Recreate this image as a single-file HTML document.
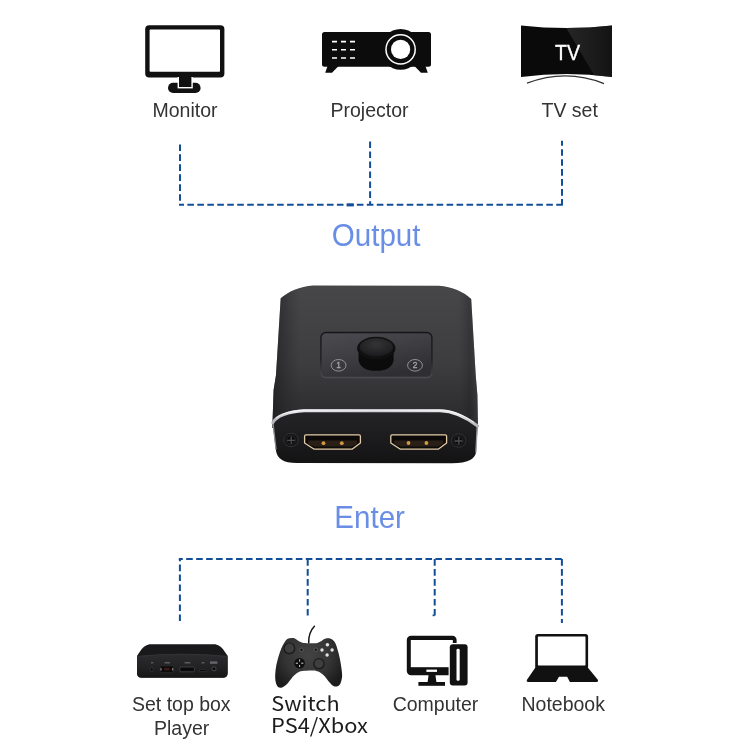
<!DOCTYPE html>
<html lang="en">
<head>
<meta charset="utf-8">
<title>HDMI switch connection diagram</title>
<style>
html,body{margin:0;padding:0;background:#fff;}
body{width:750px;height:750px;overflow:hidden;}
svg{display:block;will-change:transform;}
text{font-family:"Liberation Sans",Arial,Helvetica,sans-serif;}
.lbl{font-size:19.5px;fill:#333;text-anchor:middle;}
.big{font-size:29px;fill:#6a8ee6;text-anchor:middle;}
.sw{font-family:"Noto Sans CJK SC","Liberation Sans",sans-serif;font-weight:400;font-size:20.1px;fill:#1c1c1c;}
.dash{fill:none;stroke:#124e98;stroke-width:2;stroke-dasharray:6.6 3.37;}
</style>
</head>
<body>
<svg width="750" height="750" viewBox="0 0 750 750">
<defs>
  <linearGradient id="topface" x1="0" y1="0" x2="0" y2="1">
    <stop offset="0" stop-color="#474648"/>
    <stop offset="0.55" stop-color="#3d3c3e"/>
    <stop offset="0.85" stop-color="#2f2f31"/>
    <stop offset="1" stop-color="#29292b"/>
  </linearGradient>
  <linearGradient id="sideshade" gradientUnits="userSpaceOnUse" x1="271" y1="0" x2="479" y2="0">
    <stop offset="0" stop-color="#1c1c1e" stop-opacity="0.75"/>
    <stop offset="0.06" stop-color="#222224" stop-opacity="0.45"/>
    <stop offset="0.14" stop-color="#2a2a2c" stop-opacity="0"/>
    <stop offset="0.9" stop-color="#2a2a2c" stop-opacity="0"/>
    <stop offset="0.955" stop-color="#1e1e20" stop-opacity="0.35"/>
    <stop offset="1" stop-color="#48484b" stop-opacity="0.5"/>
  </linearGradient>
  <linearGradient id="frontface" x1="0" y1="0" x2="0" y2="1">
    <stop offset="0" stop-color="#252527"/>
    <stop offset="0.5" stop-color="#1c1c1e"/>
    <stop offset="1" stop-color="#131314"/>
  </linearGradient>
  <linearGradient id="panelfill" x1="0" y1="0" x2="0.5" y2="1">
    <stop offset="0" stop-color="#4b4b51"/>
    <stop offset="0.45" stop-color="#404045"/>
    <stop offset="1" stop-color="#2f2f33"/>
  </linearGradient>
  <linearGradient id="panelrim" x1="0" y1="0" x2="0" y2="1">
    <stop offset="0" stop-color="#161618"/>
    <stop offset="0.6" stop-color="#202022"/>
    <stop offset="1" stop-color="#4c4c50"/>
  </linearGradient>
  <radialGradient id="btntop" cx="0.5" cy="0.35" r="0.7">
    <stop offset="0" stop-color="#343437"/>
    <stop offset="0.7" stop-color="#222224"/>
    <stop offset="1" stop-color="#151516"/>
  </radialGradient>
  <linearGradient id="silver" x1="0" y1="0" x2="1" y2="0">
    <stop offset="0" stop-color="#b4b5b9"/>
    <stop offset="0.1" stop-color="#e6e7ea"/>
    <stop offset="0.5" stop-color="#cfd0d4"/>
    <stop offset="0.9" stop-color="#e6e7ea"/>
    <stop offset="1" stop-color="#b4b5b9"/>
  </linearGradient>
  <linearGradient id="tvsheen" x1="0" y1="0" x2="1" y2="0">
    <stop offset="0" stop-color="#3a3a3a"/>
    <stop offset="1" stop-color="#141414"/>
  </linearGradient>
  <clipPath id="tvclip"><path d="M521 25.6 Q566.5 30.6 612 25.6 V77 Q566.5 71 521 77 Z"/></clipPath>
  <linearGradient id="stbfront" x1="0" y1="0" x2="0" y2="1">
    <stop offset="0" stop-color="#2c2c2f"/>
    <stop offset="0.5" stop-color="#232325"/>
    <stop offset="1" stop-color="#161617"/>
  </linearGradient>
  <radialGradient id="padbody" gradientUnits="userSpaceOnUse" cx="308" cy="655" r="38">
    <stop offset="0" stop-color="#434343"/>
    <stop offset="0.6" stop-color="#343434"/>
    <stop offset="1" stop-color="#1c1c1c"/>
  </radialGradient>
</defs>
<rect width="750" height="750" fill="#fff"/>

<!-- ===== dashed connectors ===== -->
<g id="lines-top" class="dash">
  <path d="M179 204.8 H563" stroke-dashoffset="1.6"/>
  <path d="M180 144.4 V204.8"/>
  <path d="M370.1 141.5 V204.8"/>
  <path d="M562 140.8 V204.8" stroke-dashoffset="1.6"/>
  <rect x="346.6" y="203.4" width="7.2" height="3" fill="#124e98" stroke="none"/>
</g>
<g id="lines-bottom" class="dash">
  <path d="M178.8 559.1 H563" stroke-dashoffset="2.6"/>
  <path d="M179.9 621 V559.1"/>
  <path d="M307.7 559.1 V615.7"/>
  <path d="M434.7 559.1 V616.1"/>
  <rect x="432.6" y="614.5" width="2" height="1.7" fill="#124e98" stroke="none"/>
  <path d="M561.9 559.1 V623.1"/>
</g>

<!-- ===== Monitor ===== -->
<g id="monitor">
  <rect x="145.2" y="25.2" width="79.2" height="52.2" rx="4" fill="#111"/>
  <rect x="149.6" y="29.6" width="70.4" height="42.2" rx="0.8" fill="#fff"/>
  <rect x="168" y="82.8" width="32.6" height="10.2" rx="5.1" fill="#111"/>
  <rect x="177.6" y="77" width="15.2" height="11.4" fill="#fff"/>
  <rect x="179" y="76" width="12.4" height="11" fill="#111"/>
</g>
<text class="lbl" x="185" y="117">Monitor</text>

<!-- ===== Projector ===== -->
<g id="projector" fill="#0c0c0c">
  <rect x="322" y="32" width="109" height="34.8" rx="2.5"/>
  <path d="M327.6 66 H338.6 L332 72.8 H325.2 Z"/>
  <path d="M414.4 66 H425.4 L427.8 72.8 H421 Z"/>
  <circle cx="400.6" cy="49.4" r="20.4"/>
  <circle cx="400.6" cy="49.4" r="14.6" fill="none" stroke="#fff" stroke-width="1.5"/>
  <circle cx="400.6" cy="49.4" r="9.6" fill="#fff"/>
  <g stroke="#fff" stroke-width="1.6" stroke-dasharray="5 4" fill="none">
    <path d="M332 41.6 H356"/>
    <path d="M332 49.8 H356"/>
    <path d="M332 58 H356"/>
  </g>
</g>
<text class="lbl" x="369.5" y="117">Projector</text>

<!-- ===== TV ===== -->
<g id="tv">
  <path d="M521 25.6 Q566.5 30.6 612 25.6 V77 Q566.5 71 521 77 Z" fill="#0a0a0a"/>
  <path d="M561.6 20 L620 20 V80 L597 80 Z" fill="url(#tvsheen)" opacity="0.62" clip-path="url(#tvclip)"/>
  <path d="M527 83.2 Q566 68.4 604 83.6" fill="none" stroke="#333" stroke-width="1.3"/>
  <text transform="translate(567.5 59.7) scale(0.96 1.085)" text-anchor="middle" font-size="20.4" fill="#fff" stroke="#fff" stroke-width="0.35">TV</text>
</g>
<text class="lbl" x="569.7" y="116.6">TV set</text>

<!-- ===== big labels ===== -->
<text class="big" transform="translate(376.1 245.5) scale(1.02 1.055)">Output</text>
<text class="big" transform="translate(369.6 528) scale(1.02 1.055)">Enter</text>

<!-- ===== HDMI switch device ===== -->
<g id="device">
  <!-- top face -->
  <path id="topshape" d="M313 285.4 L439 285.8 C452 286.5 464 292 471.2 299 L475.7 375 L477.4 395 L478 428 H272.4 L272.6 420 L273.6 390 L276 375 L280.7 298.3 C288 291.5 300 286.2 313 285.4 Z" fill="url(#topface)"/>
  <path d="M313 285.4 L439 285.8 C452 286.5 464 292 471.2 299 L475.7 375 L477.4 395 L478 428 H272.4 L272.6 420 L273.6 390 L276 375 L280.7 298.3 C288 291.5 300 286.2 313 285.4 Z" fill="url(#sideshade)"/>
  <!-- panel -->
  <rect x="320.4" y="332" width="112" height="46" rx="5.5" fill="url(#panelfill)"/>
  <rect x="320.9" y="332.5" width="111" height="45" rx="5" fill="none" stroke="url(#panelrim)" stroke-width="1.4"/>
  <!-- button -->
  <path d="M358.6 349 V360.4 Q361 370.8 376.2 370.8 Q391.4 370.8 393.6 360.4 V349 Z" fill="#0b0b0c"/>
  <ellipse cx="376.3" cy="348.2" rx="19.2" ry="11.4" fill="#101011"/>
  <ellipse cx="376.3" cy="347.2" rx="16.6" ry="9.2" fill="url(#btntop)"/>
  <!-- circled numbers -->
  <g fill="none" stroke="#9c9ca0" stroke-width="0.9">
    <ellipse cx="338.6" cy="365.3" rx="7.4" ry="5.8"/>
    <ellipse cx="415" cy="365.3" rx="7.4" ry="5.8"/>
  </g>
  <g font-size="8.4" fill="#a9a9ad" stroke="#a9a9ad" stroke-width="0.3" text-anchor="middle">
    <text x="338.6" y="368.3">1</text>
    <text x="415" y="368.3">2</text>
  </g>
  <!-- front face -->
  <path d="M272.6 423 C276 417 288 411.5 304 410.9 L440 411 C452 411.2 466 417.5 477.6 426.2 L476 452.6 C475 459 468 463.3 452 463.3 L296.8 463.1 C283 463.1 277.2 458.6 276 450.8 Z" fill="url(#frontface)"/>
  <!-- edge highlights -->
  <path d="M273 423 L276 449" fill="none" stroke="#8c8d91" stroke-width="1.3" stroke-linecap="round"/>
  <path d="M477.2 426.5 L475.9 452" fill="none" stroke="#9a9b9f" stroke-width="1.3" stroke-linecap="round"/>
  <!-- silver chamfer -->
  <path d="M272.8 422.6 C276 416.6 288 411.3 304 410.7 L440 410.8 C452 411 466 417.3 477.6 426" fill="none" stroke="url(#silver)" stroke-width="3" stroke-linecap="round"/>
  <path d="M276 418.2 C281 414 290 410.6 304 410 L440 410.1 C452 410.4 464 415.4 474 422.4" fill="none" stroke="#fff" stroke-width="0.9" opacity="0.85"/>
  <!-- HDMI ports -->
  <g id="port1">
    <path d="M306 434.8 H359 Q360.4 434.8 360.4 436.2 V443 L352 449.2 H314.2 L304.6 443 V436.2 Q304.6 434.8 306 434.8 Z" fill="#0c0a08" stroke="#e3cba6" stroke-width="1.3" stroke-linejoin="round"/>
    <path d="M308 440.6 H357 V444 L351.6 446.4 H314.6 L308 444 Z" fill="#2a1f16"/>
    <circle cx="323.5" cy="443.2" r="1.9" fill="#d09a42"/>
    <circle cx="341.8" cy="443.2" r="1.9" fill="#d09a42"/>
  </g>
  <g id="port2" transform="translate(86.2 0)">
    <path d="M306 434.8 H359 Q360.4 434.8 360.4 436.2 V443 L352 449.2 H314.2 L304.6 443 V436.2 Q304.6 434.8 306 434.8 Z" fill="#0c0a08" stroke="#e3cba6" stroke-width="1.3" stroke-linejoin="round"/>
    <path d="M308 440.6 H357 V444 L351.6 446.4 H314.6 L308 444 Z" fill="#2a1f16"/>
    <circle cx="322.3" cy="443" r="1.9" fill="#d09a42"/>
    <circle cx="340.2" cy="443" r="1.9" fill="#d09a42"/>
  </g>
  <!-- screws -->
  <g id="screws">
    <ellipse cx="291" cy="440" rx="7.2" ry="6.7" fill="#141415" stroke="#333336" stroke-width="1"/>
    <circle cx="291" cy="440" r="4.4" fill="#0c0c0d" stroke="#2c2c2e" stroke-width="0.8"/>
    <path d="M287.2 440.4 H294.8 M291.2 436.4 V443.8" stroke="#4e4e52" stroke-width="1.3"/>
    <ellipse cx="458.6" cy="440.6" rx="7.2" ry="6.7" fill="#141415" stroke="#333336" stroke-width="1"/>
    <circle cx="458.6" cy="440.6" r="4.4" fill="#0c0c0d" stroke="#2c2c2e" stroke-width="0.8"/>
    <path d="M454.8 441 H462.4 M458.8 437 V444.4" stroke="#4e4e52" stroke-width="1.3"/>
  </g>
</g>

<!-- ===== Set top box ===== -->
<g id="stb">
  <path d="M137.1 655.8 L139.8 651.8 Q143.4 645.6 149.5 644.3 H215.3 Q221.2 645.6 224.8 651.8 L227.6 655.8 V673 Q227.6 677.6 223 677.6 H141.6 Q137.1 677.6 137.1 673 Z" fill="#19191b"/>
  <path d="M137 656.2 Q182 651.8 227.6 656.2 V673 Q227.6 677.7 223 677.7 H141.6 Q137 677.7 137 673 Z" fill="url(#stbfront)"/>
  <path d="M137.4 656.4 Q182 652 227.2 656.4" fill="none" stroke="#343437" stroke-width="0.9"/>
  <!-- port labels -->
  <g fill="#5c5c60">
    <rect x="151" y="662" width="2.2" height="1.5"/>
    <rect x="164.6" y="662" width="5.4" height="1.5"/>
    <rect x="184.6" y="662" width="5.8" height="1.5"/>
    <rect x="201.6" y="662" width="2.8" height="1.5"/>
    <rect x="210" y="661.4" width="7.4" height="2.4" fill="#66666a"/>
  </g>
  <!-- ports -->
  <circle cx="151.8" cy="669.4" r="1.7" fill="#070707" stroke="#3c3c3f" stroke-width="0.8"/>
  <rect x="160.2" y="665.8" width="13.2" height="7" rx="0.8" fill="#0b0b0b" stroke="#303033" stroke-width="0.8"/>
  <rect x="164.2" y="667.8" width="5.2" height="2.6" fill="#3e1a15"/>
  <rect x="160.4" y="668.2" width="1.2" height="2.2" fill="#8a8a8e"/><rect x="172" y="668.2" width="1.2" height="2.2" fill="#8a8a8e"/>
  <rect x="179.8" y="667" width="14.6" height="4.8" rx="1.2" fill="#0a0a0a" stroke="#48484c" stroke-width="0.8"/>
  <rect x="199.4" y="669.6" width="6.8" height="2" rx="0.9" fill="#070707" stroke="#3f3f42" stroke-width="0.6"/>
  <circle cx="214" cy="668.8" r="2" fill="#080808" stroke="#505054" stroke-width="0.9"/>
</g>
<text class="lbl" x="181.3" y="710.6">Set top box</text>
<text class="lbl" x="181.6" y="734.6">Player</text>

<!-- ===== Controller ===== -->
<g id="pad">
  <path d="M308.7 643 C308.4 636 310.4 630.4 314.4 626.2" fill="none" stroke="#151515" stroke-width="1.5" stroke-linecap="round"/>
  <path d="M284.3 642.7 C285.3 641.1 286.2 639.5 287.7 638.7 C289.2 637.9 291.6 637.9 293.3 638.1 C295.0 638.4 296.4 639.6 297.9 640.4 C299.4 641.2 300.7 642.2 302.4 642.7 C304.1 643.1 305.8 643.1 308.1 643.2 C310.3 643.3 313.9 643.5 316.0 643.2 C318.1 643.0 319.0 642.3 320.5 641.5 C322.0 640.8 323.4 639.2 325.1 638.7 C326.8 638.2 329.1 638.1 330.7 638.7 C332.3 639.3 333.6 640.3 334.7 642.1 C335.8 643.9 336.7 646.7 337.5 649.5 C338.4 652.2 339.1 655.3 339.8 658.5 C340.5 661.7 341.1 665.7 341.5 668.7 C341.9 671.8 342.3 674.2 342.1 676.7 C341.9 679.1 341.1 681.9 340.4 683.5 C339.6 685.1 338.8 685.9 337.5 686.3 C336.3 686.7 334.5 686.6 333.0 685.7 C331.5 684.9 330.0 682.9 328.5 681.2 C327.0 679.5 325.6 677.1 323.9 675.5 C322.2 673.9 320.2 672.4 318.3 671.6 C316.4 670.7 315.2 670.5 312.6 670.4 C310.0 670.3 305.0 670.5 302.4 671.0 C299.8 671.5 298.6 671.9 296.7 673.3 C294.8 674.6 292.8 677.0 291.1 678.9 C289.4 680.8 288.0 683.2 286.5 684.6 C285.0 686.0 283.4 687.1 282.0 687.4 C280.6 687.8 279.1 687.7 278.0 686.9 C277.0 686.0 276.2 684.4 275.8 682.3 C275.3 680.3 275.1 677.2 275.2 674.4 C275.3 671.6 275.8 668.4 276.3 665.3 C276.9 662.3 277.8 659.1 278.6 656.3 C279.5 653.4 280.5 650.6 281.4 648.3 C282.4 646.1 283.2 644.3 284.3 642.7 Z" fill="url(#padbody)"/>
  <!-- sticks -->
  <circle cx="289.4" cy="648.4" r="6" fill="#1d1d1d"/>
  <circle cx="289.4" cy="648.2" r="4.6" fill="#3f3f3f"/>
  <circle cx="318.9" cy="663.8" r="5.8" fill="#1d1d1d"/>
  <circle cx="318.9" cy="663.6" r="4.4" fill="#3f3f3f"/>
  <!-- d-pad -->
  <circle cx="299.6" cy="663.2" r="5.3" fill="#0e0e0e"/>
  <path d="M299.6 659.4 V667 M295.8 663.2 H303.4" stroke="#cfcfcf" stroke-width="1" stroke-dasharray="2.2 3.2"/>
  <circle cx="299.6" cy="663.2" r="1.3" fill="#0e0e0e"/>
  <!-- centre buttons -->
  <circle cx="301.5" cy="649.8" r="1.7" fill="#111" stroke="#7a7a7a" stroke-width="0.6"/>
  <circle cx="315.8" cy="649.8" r="1.7" fill="#111" stroke="#7a7a7a" stroke-width="0.6"/>
  <!-- face buttons -->
  <g fill="#e2e2e2">
    <circle cx="327.4" cy="644.8" r="1.8"/>
    <circle cx="322" cy="650" r="1.7"/>
    <circle cx="332.1" cy="650" r="1.7"/>
    <circle cx="327.1" cy="655" r="1.7"/>
  </g>
</g>
<text class="sw" transform="translate(271.2 711.4) scale(1.08 1)">Switch</text>
<text class="sw" transform="translate(271.1 733.3) scale(1.085 1)">PS4/Xbox</text>

<!-- ===== Computer ===== -->
<g id="computer">
  <rect x="408.8" y="637.8" width="45.8" height="35.4" rx="2.2" fill="#111" stroke="#111" stroke-width="4"/>
  <rect x="410.8" y="640" width="42" height="27.2" fill="#fff"/>
  <rect x="426.4" y="669.6" width="10.6" height="2.3" fill="#fff"/>
  <path d="M428.6 675 H435.4 L436.4 682 H427.6 Z" fill="#111"/>
  <rect x="418.4" y="682" width="26.6" height="3.8" fill="#111"/>
  <rect x="448.6" y="643" width="20.2" height="43.6" rx="3.6" fill="#fff"/>
  <rect x="449.8" y="644.2" width="17.8" height="41.4" rx="3" fill="#111"/>
  <rect x="456.5" y="648.8" width="3.2" height="32" rx="1.4" fill="#fff"/>
</g>
<text class="lbl" x="435.5" y="710.6">Computer</text>

<!-- ===== Notebook ===== -->
<g id="notebook">
  <rect x="535.2" y="634" width="52.9" height="35" rx="2.6" fill="#111"/>
  <rect x="537.9" y="636.5" width="47.6" height="28.9" rx="0.6" fill="#fff"/>
  <path d="M535.4 667.6 H587.8 L598 680 Q598.5 682 596.8 682 H528 Q526.3 682 526.8 680 Z" fill="#111"/>
  <path d="M559 676.8 H567.2 L570 682.2 H555.8 Z" fill="#fff"/>
</g>
<text class="lbl" x="563.2" y="711">Notebook</text>
</svg>
</body>
</html>
